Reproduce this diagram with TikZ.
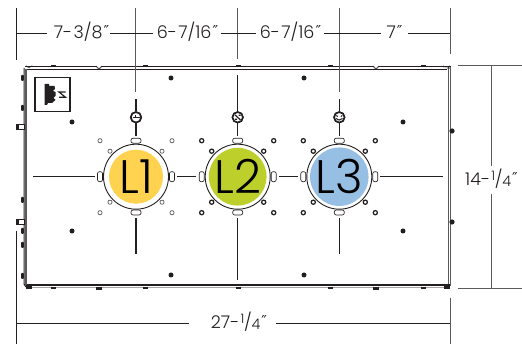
\documentclass[tikz,border=0pt]{standalone}
\usepackage{fontspec}
\setmainfont{Poppins Light}
\newfontfamily\symf{DejaVu Sans}
\definecolor{lyellow}{HTML}{FFD24F}
\definecolor{lgreen}{HTML}{BDCF2A}
\definecolor{lblue}{HTML}{97BFE4}
\definecolor{ink}{HTML}{231F20}
\definecolor{dimgray}{HTML}{5A5A5A}
\newcommand{\ftn}[2]{\raisebox{.3em}{\fontsize{13}{13}\selectfont #1}\kern-.02em/\kern-.02em\raisebox{-.03em}{\fontsize{14.5}{14.5}\selectfont #2}}
\newcommand{\dq}{\kern.06em{\symf\fontsize{15}{15}\selectfont\raisebox{.16em}{″}}}
\tikzset{
  dimline/.style={draw=ink,line width=.8pt},
  dimtext/.style={font=\fontsize{17.5}{17.5}\selectfont,text=ink,inner sep=0pt,anchor=center},
  wire/.style={draw=ink,line width=1.4pt},
  dotb/.style={fill=ink,circle,inner sep=0pt,minimum size=5pt},
  ringg/.style={draw=dimgray,fill=white,circle,inner sep=0pt,minimum size=4.2pt,line width=.7pt},
  ringb/.style={draw=ink,fill=white,circle,inner sep=0pt,minimum size=4.2pt,line width=1.25pt},
  hoval/.style={draw=ink,fill=white,rounded corners=2pt,minimum width=10pt,minimum height=5pt,inner sep=0pt,line width=.65pt},
  voval/.style={draw=ink,fill=white,rounded corners=2pt,minimum width=5pt,minimum height=10pt,inner sep=0pt,line width=.65pt},
  lamp/.style={circle,draw=ink,fill=white,line width=.9pt,minimum size=65pt,inner sep=0pt},
  disc/.style={circle,minimum size=54pt,inner sep=0pt,text=black,font=\fontsize{47}{47}\selectfont},
  sensor/.style={circle,draw=ink,fill=white,line width=1.6pt,minimum size=10.4pt,inner sep=0pt},
  bump/.style={fill=ink,inner sep=0pt,minimum width=5pt,minimum height=2pt},
  bumpl/.style={fill=ink,rounded corners=.8pt,inner sep=0pt,minimum width=2.6pt,minimum height=6pt},
}
\begin{document}
\begin{tikzpicture}[x=1pt,y=-1pt]
\useasboundingbox (0,0) rectangle (522,344);
\fill[white] (0,0) rectangle (522,344);

% panel
\draw[draw=ink,line width=1.3pt] (25,66.7) -- (450.5,66.7);
\draw[draw=ink,line width=.9pt] (26,69.2) -- (447,69.2);
\draw[draw=ink,line width=1.5pt] (26,285) -- (449,285);
\draw[draw=gray!70,line width=.9pt] (26,287.4) -- (450,287.4);
\draw[draw=ink,line width=1pt] (24,68) -- (24,284) -- (26,287);
\fill[gray!70!black] (24.5,69) rectangle (26.8,285);
\draw[draw=dimgray,line width=.9pt] (448.3,69) -- (448.3,285);
\draw[draw=dimgray,line width=.9pt] (450.8,67) -- (450.8,286);
\fill[ink] (26,66.5) -- (26,64.8) arc (180:0:3) -- (32,66.5) -- cycle;
\fill[ink] (443,67) -- (443,65) arc (180:0:3.2) -- (449.5,69) -- cycle;
\fill[ink] (26,285) rectangle (32,289.5);
\fill[ink] (444,284) rectangle (450,289);
% bumps
\foreach \x in {53,145,238,330,423} {
  \node[bump] at (\x,66) {};
  \node[bump] at (\x,288) {};
}
\foreach \x in {99,376} {
  \draw[ink,fill=white,line width=.8pt] (\x-2.5,66) arc (180:0:2.5);
  \node[bump,minimum width=5.5pt,minimum height=3pt] at (\x,288.5) {};
}
\foreach \y in {78,108,200,231,245,276} \node[bumpl] at (22.5,\y) {};
\foreach \y in {131,222} \fill[ink] (452,\y) circle (2.6);
\foreach \y in {127,222} {
  \draw[ink,fill=white,line width=.8pt] (18,\y-2.6) rectangle (24.5,\y+2.6);
  \fill[ink] (16,\y-2.8) rectangle (19,\y+2.8);
}

% logo
\draw[ink,line width=1.1pt] (35,77.5) rectangle (70,111.5);
\fill[ink] (44.5,84) -- (49,84) -- (49,86) -- (54.5,86) -- (55,89) -- (53,91) -- (55.5,92) -- (55.5,96) -- (53.5,98) -- (55.5,100) -- (52,103) -- (48,103) -- (47,105) -- (44.5,105) -- cycle;
\draw[ink,line width=1.2pt] (65.5,92) -- (59,92) -- (65.5,97.3) -- (59,97.3);

% dimension lines
\draw[dimline] (16.5,8) -- (16.5,60);
\draw[dimline] (16.5,231) -- (16.5,344);
\draw[dimline,draw=dimgray] (135.7,8) -- (135.7,92);
\draw[dimline,draw=dimgray] (237.7,8) -- (237.7,59);
\draw[dimline,draw=dimgray] (339.3,8) -- (339.3,92);
\draw[dimline,draw=dimgray] (450,8) -- (450,54);
\draw[dimline,draw=dimgray] (450,298) -- (450,344);
\draw[dimline] (16.5,33) -- (47,33);
\draw[dimline] (110,33) -- (153,33);
\draw[dimline] (221,33) -- (256,33);
\draw[dimline] (324,33) -- (381,33);
\draw[dimline] (408,33) -- (450,33);
\draw[dimline] (16.5,323) -- (189,323);
\draw[dimline] (276,323) -- (450,323);
\draw[dimline,draw=dimgray] (458,65.5) -- (522,65.5);
\draw[dimline,draw=dimgray] (458,288.7) -- (522,288.7);
\draw[dimline,draw=dimgray] (491,65.5) -- (491,166);
\draw[dimline,draw=dimgray] (491,194) -- (491,288.7);

\node[dimtext] (d1) at (81.5,32) {7-\kern.08em 3/8\dq};
\node[dimtext] (d2) at (187.5,32) {6-\kern.08em 7/16\dq};
\node[dimtext] (d3) at (290.5,32) {6-\kern.08em 7/16\dq};
\node[dimtext] (d4) at (394.5,32) {7\dq};
\node[dimtext] (d5) at (239,322) {27-\kern.08em\ftn{1}{4}\dq};
\node[dimtext] (d6) at (491.5,179) {14-\kern.08em\ftn{1}{4}\dq};

% black dots
\foreach \x/\y in {171/78,304/78,72/122,403/122,72/231,403/231,171/275,304/275}
  \node[dotb] at (\x,\y) {};

% lamps
\foreach \n/\cx/\col/\rs in {L1/136/lyellow/ringg,L2/237.7/lgreen/ringb,L3/339.3/lblue/ringb} {
  \node[lamp] (\n) at (\cx,176.7) {};
  \node[disc,fill=\col] (d\n) at (\cx,176.7) {\n};
  \node[hoval] (\n t) at (\cx,140.7) {};
  \node[hoval] (\n b) at (\cx,212.5) {};
  \node[voval] (\n l) at (\cx-36,176.7) {};
  \node[voval] (\n r) at (\cx+36,176.7) {};
  \node[sensor] (\n s) at (\cx,117.3) {};
  \foreach \dx/\dy in {-36/-36,36/-36,-36/36,36/36,-26/-25.5,26/-25.5,-26/25.5,26/25.5}
    \node[\rs] at (\cx+\dx,176.7+\dy) {};
}

% wires
\coordinate (wl) at (33,176.7);
\coordinate (wr) at (443,176.7);
\draw[wire] (wl) -- (95,176.7);
\draw[wire] (177,176.7) -- (196,176.7);
\draw[wire] (279,176.7) -- (298,176.7);
\draw[wire] (380,176.7) -- (wr);
\draw[wire] (L1s) -- (136,136);
\draw[wire] (L1s) -- (136,99);
\draw[wire] (L2s) -- (237.7,136);
\draw[wire] (L2s) -- (237.7,75);
\draw[wire] (L3s) -- (339.3,136);
\draw[wire] (L3s) -- (339.3,99);
\draw[wire] (136,218) -- (136,254);
\draw[wire] (237.7,218) -- (237.7,280);
\draw[wire] (339.3,218) -- (339.3,254);

% sensors redraw and glyphs
\foreach \n in {L1,L2,L3} \node[sensor] at (\n s) {};
\draw[ink,line width=1.2pt] (132.5,117.8) -- (139.5,117.8);
\draw[ink,line width=.9pt] (135,116.8) -- (135,114.8);
\draw[ink,line width=1.2pt] (235,114.8) -- (240.5,120) (234.8,119.3) -- (237,119.3) (238.5,115.2) -- (240.6,115.2);
\draw[ink,line width=1pt] (336.3,115.5) -- (337.8,116.6) (342.3,115.5) -- (340.8,116.6) (336,118.5) .. controls (338,120.7) and (340.6,120.7) .. (342.6,118.5);
\end{tikzpicture}
\end{document}
